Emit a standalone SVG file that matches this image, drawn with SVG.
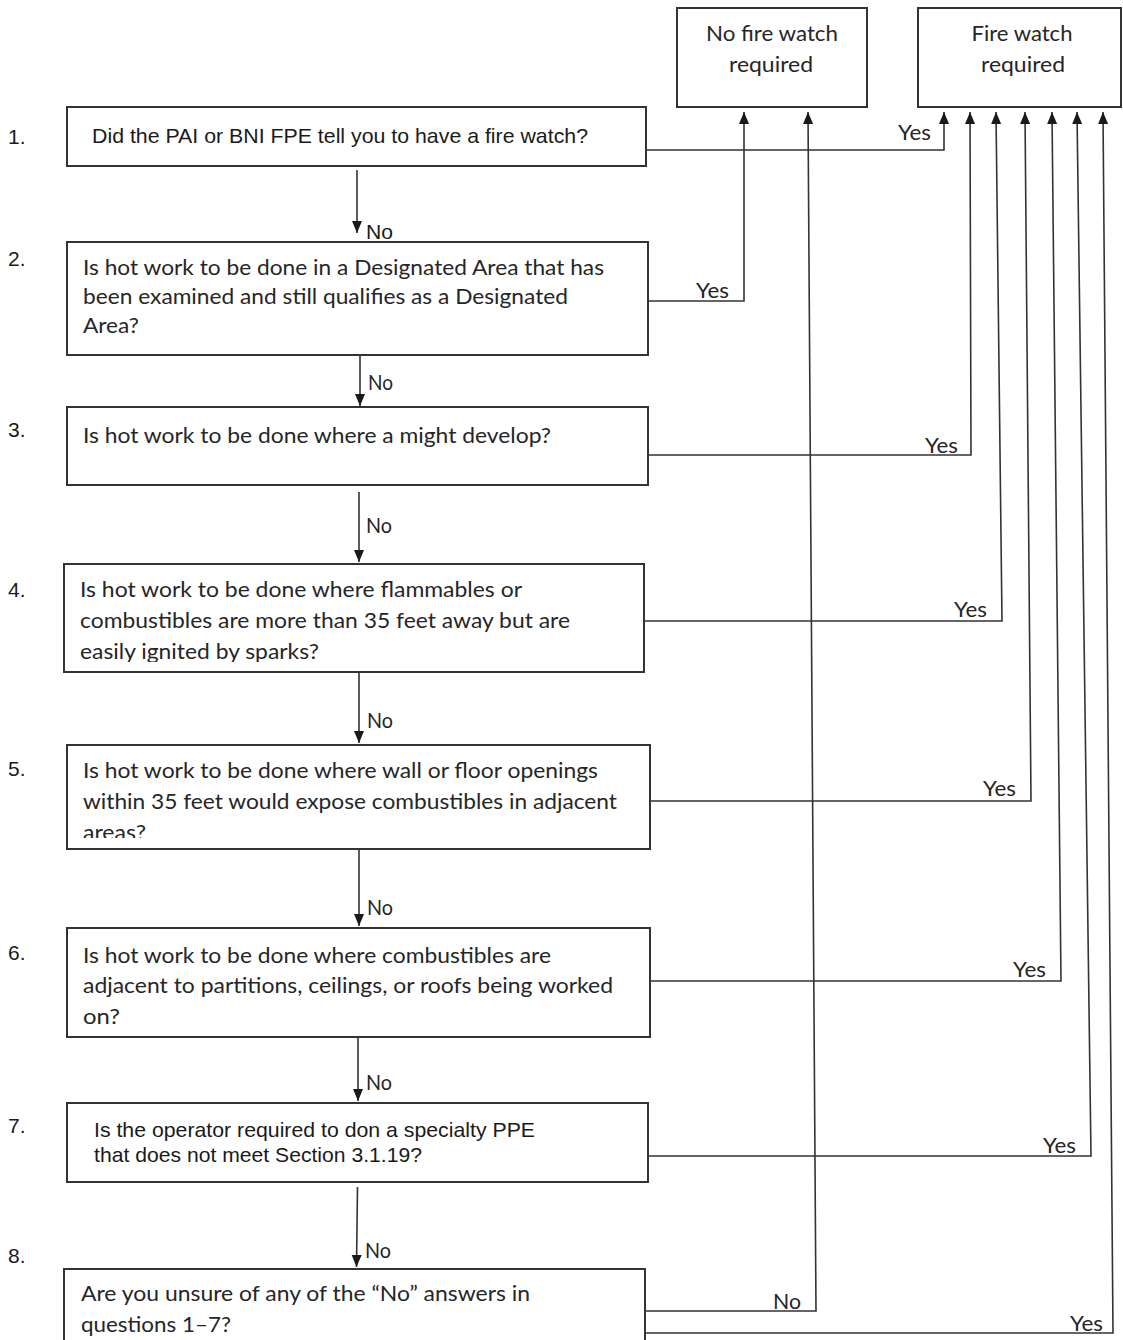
<svg xmlns="http://www.w3.org/2000/svg" width="1123" height="1340" viewBox="0 0 1123 1340">
<style>
.box{fill:#fff;stroke:#333;stroke-width:2}
.cal{font-family:Lato,"Open Sans","Liberation Sans",sans-serif;font-size:22px;fill:#262626}
.ari{font-family:"Liberation Sans",Arial,sans-serif;font-size:21px;fill:#1a1a1a}
.lbl{font-family:Lato,"Open Sans","Liberation Sans",sans-serif;font-size:21px;fill:#262626}
.ln{fill:none;stroke:#333;stroke-width:1.6}
.arr{marker-end:url(#ah)}
</style>
<defs>
<marker id="ah" markerUnits="userSpaceOnUse" markerWidth="13" markerHeight="11" refX="12" refY="5" orient="auto"><path d="M0,0 L12,5 L0,10 Z" fill="#1a1a1a"/></marker>
<clipPath id="c4"><rect x="60" y="560" width="600" height="102"/></clipPath>
<clipPath id="c5"><rect x="60" y="740" width="600" height="98"/></clipPath>
</defs>
<rect x="0" y="0" width="1123" height="1340" fill="#fff"/>

<g id="node-no-fire-watch">
<rect class="box" x="677" y="8" width="190" height="99"/>
<text class="cal" x="772" y="41" text-anchor="middle" textLength="132" lengthAdjust="spacingAndGlyphs">No fire watch</text>
<text class="cal" x="771" y="72" text-anchor="middle" textLength="84" lengthAdjust="spacingAndGlyphs">required</text>
</g>

<g id="node-fire-watch">
<rect class="box" x="918" y="8" width="203" height="99"/>
<text class="cal" x="1022" y="41" text-anchor="middle" textLength="101" lengthAdjust="spacingAndGlyphs">Fire watch</text>
<text class="cal" x="1023" y="72" text-anchor="middle" textLength="84" lengthAdjust="spacingAndGlyphs">required</text>
</g>

<g id="node-q1">
<text class="ari" x="8" y="144">1.</text>
<rect class="box" x="67" y="107" width="579" height="59"/>
<text class="ari" x="92" y="143" textLength="496" lengthAdjust="spacingAndGlyphs">Did the PAI or BNI FPE tell you to have a fire watch?</text>
</g>

<g id="node-q2">
<text class="ari" x="8" y="266">2.</text>
<rect class="box" x="67" y="242" width="581" height="113"/>
<text class="cal" x="83" y="275" textLength="521" lengthAdjust="spacingAndGlyphs">Is hot work to be done in a Designated Area that has</text>
<text class="cal" x="83" y="304" textLength="485" lengthAdjust="spacingAndGlyphs">been examined and still qualifies as a Designated</text>
<text class="cal" x="83" y="333" textLength="56" lengthAdjust="spacingAndGlyphs">Area?</text>
</g>

<g id="node-q3">
<text class="ari" x="8" y="437">3.</text>
<rect class="box" x="67" y="407" width="581" height="78"/>
<text class="cal" x="83" y="443" textLength="468" lengthAdjust="spacingAndGlyphs">Is hot work to be done where a might develop?</text>
</g>

<g id="node-q4">
<text class="ari" x="8" y="597">4.</text>
<rect class="box" x="64" y="564" width="580" height="108"/>
<text class="cal" x="80" y="597" textLength="442" lengthAdjust="spacingAndGlyphs">Is hot work to be done where flammables or</text>
<text class="cal" x="80" y="628" textLength="490" lengthAdjust="spacingAndGlyphs">combustibles are more than 35 feet away but are</text>
<text class="cal" x="80" y="659" textLength="239" lengthAdjust="spacingAndGlyphs" clip-path="url(#c4)">easily ignited by sparks?</text>
</g>

<g id="node-q5">
<text class="ari" x="8" y="776">5.</text>
<rect class="box" x="67" y="745" width="583" height="104"/>
<text class="cal" x="83" y="778" textLength="515" lengthAdjust="spacingAndGlyphs">Is hot work to be done where wall or floor openings</text>
<text class="cal" x="83" y="809" textLength="534" lengthAdjust="spacingAndGlyphs">within 35 feet would expose combustibles in adjacent</text>
<text class="cal" x="83" y="840" textLength="63" lengthAdjust="spacingAndGlyphs" clip-path="url(#c5)">areas?</text>
</g>

<g id="node-q6">
<text class="ari" x="8" y="960">6.</text>
<rect class="box" x="67" y="928" width="583" height="109"/>
<text class="cal" x="83" y="963" textLength="468" lengthAdjust="spacingAndGlyphs">Is hot work to be done where combustibles are</text>
<text class="cal" x="83" y="993" textLength="530" lengthAdjust="spacingAndGlyphs">adjacent to partitions, ceilings, or roofs being worked</text>
<text class="cal" x="83" y="1024" textLength="37" lengthAdjust="spacingAndGlyphs">on?</text>
</g>

<g id="node-q7">
<text class="ari" x="8" y="1133">7.</text>
<rect class="box" x="67" y="1103" width="581" height="79"/>
<text class="ari" x="94" y="1137" textLength="441" lengthAdjust="spacingAndGlyphs">Is the operator required to don a specialty PPE</text>
<text class="ari" x="94" y="1162" textLength="328" lengthAdjust="spacingAndGlyphs">that does not meet Section 3.1.19?</text>
</g>

<g id="node-q8">
<text class="ari" x="8" y="1263">8.</text>
<rect class="box" x="64" y="1269" width="581" height="80"/>
<text class="cal" x="81" y="1301" textLength="449" lengthAdjust="spacingAndGlyphs">Are you unsure of any of the “No” answers in</text>
<text class="cal" x="81" y="1332" textLength="150" lengthAdjust="spacingAndGlyphs">questions 1–7?</text>
</g>

<g id="connectors">
<path class="ln arr" d="M357,170 V233"/>
<path class="ln arr" d="M360,355 V406"/>
<path class="ln arr" d="M359,492 V562"/>
<path class="ln arr" d="M359,672 V743"/>
<path class="ln arr" d="M359,849 V926"/>
<path class="ln arr" d="M358,1036 V1101"/>
<path class="ln arr" d="M357.5,1187 L356.5,1267"/>

<path class="ln arr" d="M646,150 H944 V112"/>
<path class="ln arr" d="M648,301 H744 V112"/>
<path class="ln arr" d="M648,455 H971 L970,112"/>
<path class="ln arr" d="M644,621 H1002 L996,112"/>
<path class="ln arr" d="M650,801 H1031 L1025,112"/>
<path class="ln arr" d="M650,981 H1061 L1052,112"/>
<path class="ln arr" d="M648,1156 H1091 L1077,112"/>
<path class="ln arr" d="M645,1311 H816 L808,112"/>
<path class="ln arr" d="M645,1333 H1113 L1103,112"/>

<text class="ari" x="366" y="239" font-size="20" textLength="27" lengthAdjust="spacingAndGlyphs">No</text>
<text class="lbl" x="368" y="390" textLength="25" lengthAdjust="spacingAndGlyphs">No</text>
<text class="lbl" x="366" y="533" textLength="26" lengthAdjust="spacingAndGlyphs">No</text>
<text class="lbl" x="367" y="728" textLength="26" lengthAdjust="spacingAndGlyphs">No</text>
<text class="lbl" x="367" y="915" textLength="26" lengthAdjust="spacingAndGlyphs">No</text>
<text class="lbl" x="366" y="1090" textLength="26" lengthAdjust="spacingAndGlyphs">No</text>
<text class="lbl" x="365" y="1258" textLength="26" lengthAdjust="spacingAndGlyphs">No</text>

<text class="lbl" x="898" y="140" textLength="33" lengthAdjust="spacingAndGlyphs">Yes</text>
<text class="lbl" x="696" y="298" textLength="33" lengthAdjust="spacingAndGlyphs">Yes</text>
<text class="lbl" x="925" y="453" textLength="33" lengthAdjust="spacingAndGlyphs">Yes</text>
<text class="lbl" x="954" y="617" textLength="33" lengthAdjust="spacingAndGlyphs">Yes</text>
<text class="lbl" x="983" y="796" textLength="33" lengthAdjust="spacingAndGlyphs">Yes</text>
<text class="lbl" x="1013" y="977" textLength="33" lengthAdjust="spacingAndGlyphs">Yes</text>
<text class="lbl" x="1043" y="1153" textLength="33" lengthAdjust="spacingAndGlyphs">Yes</text>
<text class="lbl" x="773" y="1309" textLength="28" lengthAdjust="spacingAndGlyphs">No</text>
<text class="lbl" x="1070" y="1331" textLength="33" lengthAdjust="spacingAndGlyphs">Yes</text>
</g>
</svg>
